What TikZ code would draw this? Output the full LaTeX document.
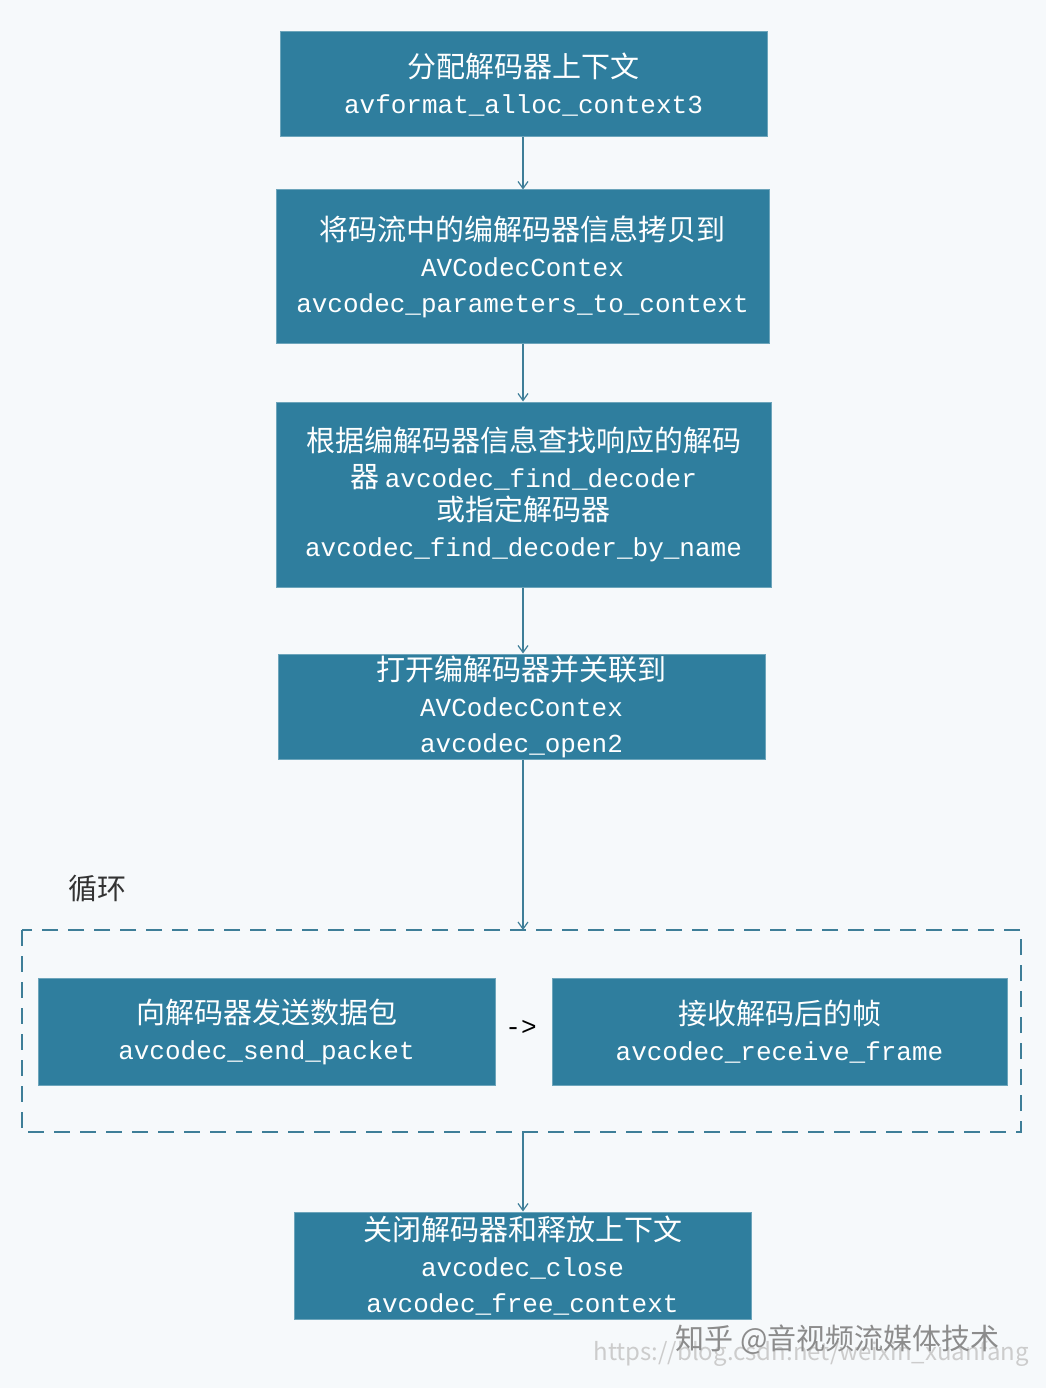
\documentclass[tikz,border=0pt]{standalone}
\usepackage{fontspec}
\setmainfont{Noto Sans CJK SC}
\newfontfamily\cjk{Noto Sans CJK SC}
\setmonofont{Liberation Mono}
\usetikzlibrary{arrows.meta}
\definecolor{boxc}{HTML}{2F7E9E}
\definecolor{bg}{HTML}{F6F9FB}
\definecolor{ln}{HTML}{3E7E98}
\newcommand{\zh}[1]{{\cjk\fontsize{29}{36}\selectfont #1}}
\newcommand{\cd}[1]{{\ttfamily #1}}
\tikzset{
 box/.style={draw=boxc!70!white, line width=1pt, fill=boxc, text=white, align=center, inner sep=0pt, font=\fontsize{26}{36}\selectfont},
 arr/.style={draw=ln, line width=1.2pt, -{Straight Barb[length=7pt,width=10pt]}},
}
\begin{document}
\begin{tikzpicture}[x=1pt,y=-1pt]
\fill[bg] (0,0) rectangle (1046,1388);
\useasboundingbox (0,0) rectangle (1046,1388);
\node[box, minimum width=487, minimum height=105] (b1) at (523.5,84.5) {\zh{分配解码器上下文}\\\cd{avformat\_alloc\_context3}};
\node[box, minimum width=493, minimum height=153] (b2) at (522.5,266.5) {\zh{将码流中的编解码器信息拷贝到}\\\cd{AVCodecContex}\\\cd{avcodec\_parameters\_to\_context}};
\node[box, minimum width=495, minimum height=185] (b3) at (523.5,494.5) {\zh{根据编解码器信息查找响应的解码}\\\zh{器}\ \cd{avcodec\_find\_decoder}\\[-3pt]\zh{或指定解码器}\\\cd{avcodec\_find\_decoder\_by\_name}};
\node[box, minimum width=487, minimum height=105] (b4) at (521.5,706.5) {\zh{打开编解码器并关联到}\\\cd{AVCodecContex}\\\cd{avcodec\_open2}};
\draw[ln, line width=1.2pt, dash pattern=on 16pt off 10pt] (22,930) rectangle (1021,1132);
\coordinate (lt) at (523,930);
\coordinate (lb) at (523,1132);
\node[text=black!80] (loop) at (97,889) {\zh{循环}};
\node[box, minimum width=457, minimum height=107] (b5) at (266.5,1031.5) {\zh{向解码器发送数据包}\\\cd{avcodec\_send\_packet}};
\node[box, minimum width=455, minimum height=107] (b6) at (779.5,1031.5) {\zh{接收解码后的帧}\\\cd{avcodec\_receive\_frame}};
\node[font=\fontsize{26}{30}\selectfont] (ar) at (521,1028) {\cd{->}};
\node[box, minimum width=457, minimum height=107] (b7) at (522.5,1265.5) {\zh{关闭解码器和释放上下文}\\\cd{avcodec\_close}\\\cd{avcodec\_free\_context}};
\draw[arr] (b1.south -| 523,0) -- (b2.north -| 523,0);
\draw[arr] (b2.south -| 523,0) -- (b3.north -| 523,0);
\draw[arr] (b3.south -| 523,0) -- (b4.north -| 523,0);
\draw[arr] (b4.south -| 523,0) -- (lt);
\draw[arr] (lb) -- (b7.north -| 523,0);
\node[text=black!20, anchor=west, font=\fontsize{24}{26}\selectfont] (wm2) at (590,1354) {https://blog.csdn.net/weixin\_xuanfang};
\node[text=black!45, anchor=west, font=\fontsize{28}{30}\selectfont] (wm) at (672,1340) {\zh{知乎 @音视频流媒体技术}};
\end{tikzpicture}
\end{document}
